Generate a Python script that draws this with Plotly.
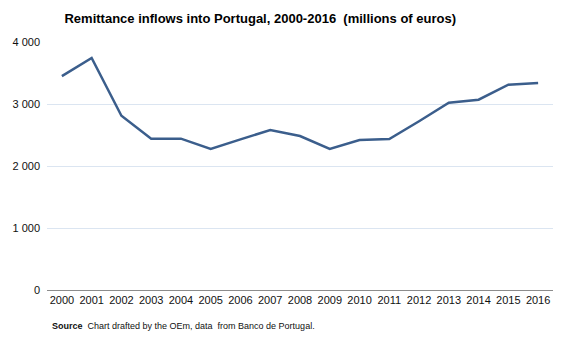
import plotly.graph_objects as go

years = [str(y) for y in range(2000, 2017)]
remittances = [3450, 3742, 2811, 2441, 2441, 2274, 2430, 2581, 2484, 2274,
               2419, 2435, 2722, 3021, 3070, 3312, 3339]
y_ticks = [0, 1000, 2000, 3000, 4000]
y_tick_labels = ["0", "1 000", "2 000", "3 000", "4 000"]

font_family = "Liberation Sans, Arial, sans-serif"

fig = go.Figure()
fig.add_trace(go.Scatter(
    x=years, y=remittances, mode="lines",
    line=dict(color="#3b5e8c", width=2.5),
    hoverinfo="x+y",
))

fig.update_layout(
    width=567, height=340,
    margin=dict(l=44, r=14, t=42, b=50),
    paper_bgcolor="white", plot_bgcolor="white",
    showlegend=False,
    font=dict(family=font_family, size=11, color="#111111"),
    title=dict(
        text="<b>Remittance inflows into Portugal, 2000-2016  (millions of euros)</b>",
        x=0.459, xanchor="center", y=0.947, yanchor="middle",
        font=dict(family=font_family, size=13, color="#000000"),
    ),
    xaxis=dict(
        type="category", range=[-0.5, len(years) - 0.5],
        showgrid=False, showline=True,
        linecolor="#8c8c8c", linewidth=1, ticks="",
        tickfont=dict(size=11, color="#111111"),
        fixedrange=True,
    ),
    yaxis=dict(
        range=[0, 4000], tickvals=y_ticks, ticktext=y_tick_labels,
        showgrid=True, gridcolor="#dbe5f1", gridwidth=1,
        zeroline=False, showline=False, ticks="",
        ticklabelstandoff=6,
        tickfont=dict(size=11, color="#111111"),
        fixedrange=True,
    ),
    annotations=[dict(
        text="<b>Source</b>  Chart drafted by the OEm, data  from Banco de Portugal.",
        xref="paper", yref="paper", x=0.006, y=-0.145,
        xanchor="left", yanchor="middle", showarrow=False,
        font=dict(family=font_family, size=9, color="#111111"),
    )],
)

fig.write_html("out.html")
